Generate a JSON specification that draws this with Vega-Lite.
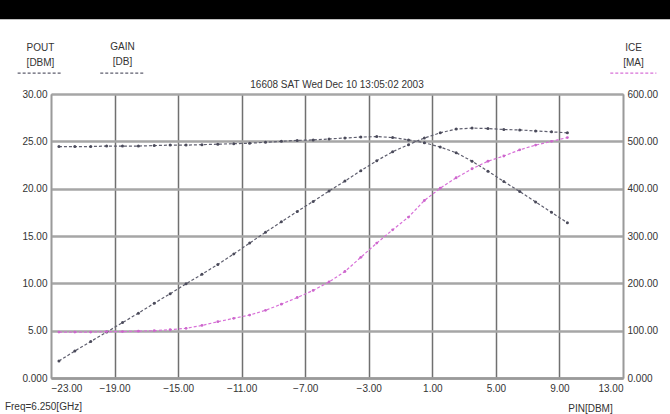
{
  "$schema": "https://vega.github.io/schema/vega-lite/v6.json",
  "width": 572,
  "height": 284,
  "autosize": {"type": "none"},
  "padding": {"left": 51, "top": 94, "right": 47, "bottom": 36},
  "background": "white",
  "config": {
    "font": "Liberation Sans",
    "view": {"stroke": null},
    "axis": {"labelFont": "Liberation Sans", "titleFont": "Liberation Sans", "labelColor": "#333333", "titleColor": "#333333", "labelFontSize": 10, "titleFontSize": 10, "titleFontWeight": "normal"}
  },
  "data": {"values": [
    {"pin": -22.5, "POUT": 1.8, "GAIN": 24.45, "ICE": 97},
    {"pin": -21.5, "POUT": 2.85, "GAIN": 24.45, "ICE": 97},
    {"pin": -20.5, "POUT": 3.85, "GAIN": 24.45, "ICE": 97},
    {"pin": -19.5, "POUT": 4.85, "GAIN": 24.5, "ICE": 98},
    {"pin": -18.5, "POUT": 5.85, "GAIN": 24.5, "ICE": 98},
    {"pin": -17.5, "POUT": 6.85, "GAIN": 24.5, "ICE": 99},
    {"pin": -16.5, "POUT": 7.9, "GAIN": 24.55, "ICE": 100},
    {"pin": -15.5, "POUT": 8.9, "GAIN": 24.6, "ICE": 102},
    {"pin": -14.5, "POUT": 9.95, "GAIN": 24.6, "ICE": 105},
    {"pin": -13.5, "POUT": 10.95, "GAIN": 24.65, "ICE": 111},
    {"pin": -12.5, "POUT": 12.0, "GAIN": 24.7, "ICE": 119},
    {"pin": -11.5, "POUT": 13.1, "GAIN": 24.75, "ICE": 126},
    {"pin": -10.5, "POUT": 14.25, "GAIN": 24.8, "ICE": 133},
    {"pin": -9.5, "POUT": 15.4, "GAIN": 24.9, "ICE": 143},
    {"pin": -8.5, "POUT": 16.5, "GAIN": 25.0, "ICE": 156},
    {"pin": -7.5, "POUT": 17.6, "GAIN": 25.1, "ICE": 170},
    {"pin": -6.5, "POUT": 18.65, "GAIN": 25.15, "ICE": 185},
    {"pin": -5.5, "POUT": 19.75, "GAIN": 25.25, "ICE": 203},
    {"pin": -4.5, "POUT": 20.8, "GAIN": 25.35, "ICE": 225},
    {"pin": -3.5, "POUT": 21.9, "GAIN": 25.45, "ICE": 255},
    {"pin": -2.5, "POUT": 22.95, "GAIN": 25.5, "ICE": 285},
    {"pin": -1.5, "POUT": 23.9, "GAIN": 25.4, "ICE": 313},
    {"pin": -0.5, "POUT": 24.65, "GAIN": 25.15, "ICE": 340},
    {"pin": 0.5, "POUT": 25.35, "GAIN": 24.85, "ICE": 375},
    {"pin": 1.5, "POUT": 25.9, "GAIN": 24.4, "ICE": 401},
    {"pin": 2.5, "POUT": 26.3, "GAIN": 23.8, "ICE": 423},
    {"pin": 3.5, "POUT": 26.4, "GAIN": 22.9, "ICE": 442},
    {"pin": 4.5, "POUT": 26.35, "GAIN": 21.85, "ICE": 458},
    {"pin": 5.5, "POUT": 26.25, "GAIN": 20.75, "ICE": 469},
    {"pin": 6.5, "POUT": 26.2, "GAIN": 19.7, "ICE": 482},
    {"pin": 7.5, "POUT": 26.1, "GAIN": 18.6, "ICE": 492},
    {"pin": 8.5, "POUT": 26.0, "GAIN": 17.5, "ICE": 500},
    {"pin": 9.5, "POUT": 25.9, "GAIN": 16.4, "ICE": 508}
  ]},
  "layer": [
    {
      "layer": [
        {
          "transform": [{"fold": ["POUT", "GAIN"], "as": ["series", "value"]}],
          "mark": {"type": "line", "color": "#5e5e6e", "strokeWidth": 1.2, "strokeDash": [3, 2], "point": {"filled": true, "size": 9, "color": "#4a4a5a"}},
          "encoding": {
            "x": {
              "field": "pin", "type": "quantitative",
              "scale": {"domain": [-23, 13], "nice": false, "zero": false},
              "axis": {
                "values": [-23, -19, -15, -11, -7, -3, 1, 5, 9, 13],
                "labelExpr": "format(datum.value, '.2f')",
                "grid": true, "gridColor": "#707070", "gridWidth": 1.5,
                "domain": true, "domainColor": "#9a9a9a", "domainWidth": 2.5,
                "ticks": false, "tickSize": 0, "labelPadding": 5,
                "title": "PIN[DBM]", "titleX": 539, "titleY": 30, "titleAlign": "center", "titleBaseline": "middle", "titleAngle": 0
              }
            },
            "y": {
              "field": "value", "type": "quantitative",
              "scale": {"domain": [0, 30], "nice": false, "zero": false},
              "axis": {
                "orient": "left",
                "values": [0, 5, 10, 15, 20, 25, 30],
                "labelExpr": "datum.value == 0 ? '0.000' : format(datum.value, '.2f')",
                "grid": true, "gridColor": "#a6a6a6", "gridWidth": 2.5,
                "domain": true, "domainColor": "#9a9a9a", "domainWidth": 1.5,
                "ticks": false, "tickSize": 0, "labelPadding": 4,
                "title": ["POUT", "[DBM]"], "titleAngle": 0, "titleAlign": "center", "titleBaseline": "top",
                "titleX": -11, "titleY": -52, "titleLineHeight": 15
              }
            },
            "detail": {"field": "series"}
          }
        },
        {
          "data": {"values": [{}]},
          "mark": {"type": "rect", "color": "black"},
          "encoding": {
            "x": {"datum": -40, "type": "quantitative"},
            "x2": {"datum": 30},
            "y": {"datum": 37.9, "type": "quantitative"},
            "y2": {"datum": 45}
          }
        },
        {
          "data": {"values": [{}]},
          "mark": {"type": "rule", "color": "#5e5e6e", "strokeDash": [3, 2], "strokeWidth": 1.2},
          "encoding": {
            "x": {"datum": -25.1, "type": "quantitative"},
            "x2": {"datum": -22.3},
            "y": {"datum": 32.2, "type": "quantitative"}
          }
        },
        {
          "data": {"values": [{}]},
          "mark": {"type": "rule", "color": "#5e5e6e", "strokeDash": [3, 2], "strokeWidth": 1.2},
          "encoding": {
            "x": {"datum": -19.9, "type": "quantitative"},
            "x2": {"datum": -17.1},
            "y": {"datum": 32.2, "type": "quantitative"}
          }
        },
        {
          "data": {"values": [{}]},
          "mark": {"type": "rule", "color": "#d870d8", "strokeDash": [3, 2], "strokeWidth": 1.2},
          "encoding": {
            "x": {"datum": 12.2, "type": "quantitative"},
            "x2": {"datum": 15.1},
            "y": {"datum": 32.2, "type": "quantitative"}
          }
        },
        {
          "data": {"values": [{}]},
          "mark": {"type": "text", "text": ["GAIN", "[DB]"], "lineHeight": 15, "align": "center", "baseline": "top", "fontSize": 10, "color": "#333333", "font": "Liberation Sans"},
          "encoding": {
            "x": {"datum": -18.5, "type": "quantitative"},
            "y": {"datum": 35.5, "type": "quantitative"}
          }
        },
        {
          "data": {"values": [{}]},
          "mark": {"type": "text", "text": "16608 SAT Wed Dec 10 13:05:02 2003", "align": "center", "baseline": "middle", "fontSize": 10, "color": "#333333", "font": "Liberation Sans"},
          "encoding": {
            "x": {"datum": -5, "type": "quantitative"},
            "y": {"datum": 30.95, "type": "quantitative"}
          }
        },
        {
          "data": {"values": [{}]},
          "mark": {"type": "text", "text": "Freq=6.250[GHz]", "align": "left", "baseline": "middle", "fontSize": 10, "color": "#333333", "font": "Liberation Sans"},
          "encoding": {
            "x": {"datum": -25.9, "type": "quantitative"},
            "y": {"datum": -3.1, "type": "quantitative"}
          }
        }
      ]
    },
    {
      "mark": {"type": "line", "color": "#d870d8", "strokeWidth": 1.2, "strokeDash": [3, 2], "point": {"filled": true, "size": 8, "color": "#cc66cc"}},
      "encoding": {
        "x": {"field": "pin", "type": "quantitative"},
        "y": {
          "field": "ICE", "type": "quantitative",
          "scale": {"domain": [0, 600], "nice": false, "zero": false},
          "axis": {
            "orient": "right",
            "values": [0, 100, 200, 300, 400, 500, 600],
            "labelExpr": "datum.value == 0 ? '0.000' : format(datum.value, '.2f')",
            "grid": false,
            "domain": true, "domainColor": "#9a9a9a", "domainWidth": 1.5,
            "ticks": false, "tickSize": 0, "labelPadding": 4,
            "title": ["ICE", "[MA]"], "titleAngle": 0, "titleAlign": "center", "titleBaseline": "top",
            "titleX": 10, "titleY": -52, "titleLineHeight": 15
          }
        }
      }
    }
  ],
  "resolve": {"scale": {"y": "independent"}}
}
